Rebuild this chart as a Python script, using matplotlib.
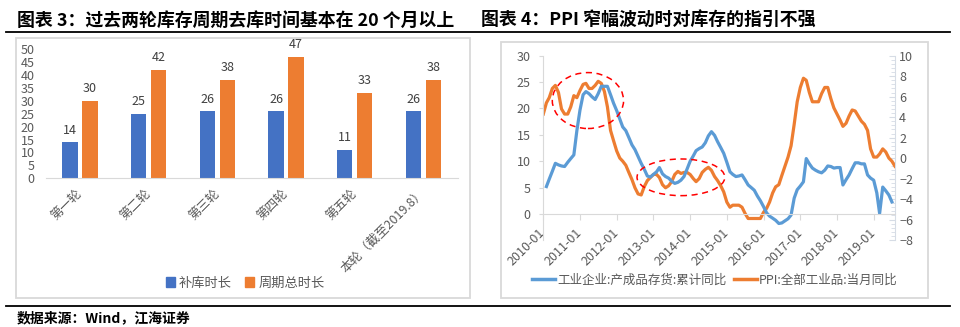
import numpy as np
import pandas as pd
import matplotlib
matplotlib.use("Agg")
import matplotlib.pyplot as plt
import matplotlib.dates as mdates
from matplotlib.patches import Ellipse, Rectangle, Patch
from matplotlib.lines import Line2D
from matplotlib.ticker import MultipleLocator

plt.rcParams['font.family'] = ['Noto Sans CJK SC', 'DejaVu Sans']

# ───────── 数据：图表 3 ─────────
rounds = ['第一轮', '第二轮', '第三轮', '第四轮', '第五轮', '本轮（截至2019.8）']
restock_len = [14, 25, 26, 26, 11, 26]
cycle_len = [30, 42, 38, 47, 33, 38]

# ───────── 数据：图表 4 ─────────
# 工业企业:产成品存货:累计同比 (%)，2010-02 起逐月
inv_2010 = [5.2, 6.6, 8.1, 9.6, 9.3, 9.1, 9.0, 9.8, 10.5, 11.2, 15.8]
inv_2011 = [19.7, 22.6, 23.2, 22.8, 22.2, 21.7, 22.8, 24.2, 24.2, 24.2, 22.6, 21.0]
inv_2012 = [19.6, 18.0, 16.5, 15.8, 14.5, 13.1, 12.2, 10.9, 9.6, 8.5, 7.2, 7.0]
inv_2013 = [7.5, 8.0, 8.8, 7.6, 7.1, 6.8, 6.2, 5.8, 6.0, 6.4, 7.1, 8.5]
inv_2014 = [10.0, 11.0, 12.0, 12.4, 12.7, 13.5, 14.8, 15.6, 14.9, 13.7, 12.6, 11.5]
inv_2015 = [9.8, 8.0, 7.5, 7.1, 7.2, 7.4, 6.5, 5.5, 5.0, 4.5, 3.4, 2.5]
inv_2016 = [1.4, 0.2, -0.4, -0.8, -1.2, -1.8, -1.7, -1.3, -0.9, -0.2, 3.0, 4.6]
inv_2017 = [5.3, 6.1, 10.5, 9.5, 8.7, 8.3, 8.0, 7.8, 8.3, 9.1, 9.0, 8.7]
inv_2018 = [8.8, 8.8, 5.5, 6.5, 7.4, 8.6, 9.7, 9.7, 9.5, 9.5, 7.4, 6.8]
inv_2019 = [6.4, 4.0, 0.1, 5.1, 4.4, 3.6, 2.3]

# PPI:全部工业品:当月同比 (%)，2010-01 起逐月
ppi_2010 = [4.3, 5.4, 5.9, 6.8, 7.1, 6.4, 4.8, 4.3, 4.3, 5.0, 6.1, 5.9]
ppi_2011 = [6.6, 7.2, 7.3, 6.8, 6.8, 7.1, 7.5, 7.3, 6.5, 5.0, 2.7, 1.7]
ppi_2012 = [0.7, 0.0, -0.3, -0.7, -1.4, -2.1, -2.9, -3.5, -3.6, -2.8, -2.2, -1.9]
ppi_2013 = [-1.6, -1.6, -1.9, -2.6, -2.9, -2.7, -2.3, -1.6, -1.3, -1.5, -1.4, -1.4]
ppi_2014 = [-1.6, -2.0, -2.3, -2.0, -1.4, -1.1, -0.9, -1.2, -1.8, -2.2, -2.7, -3.3]
ppi_2015 = [-4.3, -4.8, -4.6, -4.6, -4.6, -4.8, -5.4, -5.9, -5.9, -5.9, -5.9, -5.9]
ppi_2016 = [-5.3, -4.9, -4.3, -3.4, -2.8, -2.6, -1.7, -0.8, 0.1, 1.2, 3.3, 5.5]
ppi_2017 = [6.9, 7.8, 7.6, 6.4, 5.5, 5.5, 5.5, 6.3, 6.9, 6.9, 5.8, 4.9]
ppi_2018 = [4.3, 3.7, 3.1, 3.4, 4.1, 4.7, 4.6, 4.1, 3.6, 3.3, 2.7, 0.9]
ppi_2019 = [0.1, 0.1, 0.4, 0.9, 0.6, 0.0, -0.3, -0.8]

inv_vals = sum([inv_2010, inv_2011, inv_2012, inv_2013, inv_2014, inv_2015,
                inv_2016, inv_2017, inv_2018, inv_2019], [])
ppi_vals = sum([ppi_2010, ppi_2011, ppi_2012, ppi_2013, ppi_2014, ppi_2015,
                ppi_2016, ppi_2017, ppi_2018, ppi_2019], [])
inv_dates = pd.date_range('2010-02-01', periods=len(inv_vals), freq='MS')
ppi_dates = pd.date_range('2010-01-01', periods=len(ppi_vals), freq='MS')
year_ticks = pd.date_range('2010-01-01', '2019-01-01', freq='YS')

BLUE_BAR = '#4472C4'
ORANGE = '#ED7D31'
BLUE_LINE = '#5B9BD5'
GREY_TXT = '#595959'
GRID = '#D9D9D9'

W, H = 960, 327
fig = plt.figure(figsize=(W / 100, H / 100), dpi=100)


def fbox(x0, y0, x1, y1):
    # 像素坐标 (左上原点) -> figure 坐标
    return [x0 / W, 1 - y1 / H, (x1 - x0) / W, (y1 - y0) / H]


# ═══════════════ 图表 3：柱状图 ═══════════════
ax1 = fig.add_axes(fbox(45.7, 49, 457.7, 178.3))
x = np.arange(len(rounds))
b1 = ax1.bar(x - 0.145, restock_len, 0.225, color=BLUE_BAR)
b2 = ax1.bar(x + 0.145, cycle_len, 0.225, color=ORANGE)
ax1.bar_label(b1, padding=4, fontsize=9, color='#404040')
ax1.bar_label(b2, padding=4, fontsize=9, color='#404040')
ax1.set_xlim(-0.5, len(rounds) - 0.5)
ax1.set_ylim(0, 50)
ax1.set_yticks(np.arange(0, 51, 5))
ax1.set_xticks(x)
ax1.set_xticklabels(rounds, rotation=45, ha='right', va='center', rotation_mode='anchor')
ax1.tick_params(axis='y', length=0, labelsize=9, labelcolor=GREY_TXT, pad=8)
ax1.tick_params(axis='x', length=0, labelsize=9, labelcolor=GREY_TXT, pad=9)
for s in ['left', 'right', 'top']:
    ax1.spines[s].set_visible(False)
ax1.spines['bottom'].set_color(GRID)

fig.legend(handles=[Patch(color=BLUE_BAR, label='补库时长'),
                    Patch(color=ORANGE, label='周期总时长')],
           loc='center', bbox_to_anchor=(245 / W, 1 - 283 / H), ncol=2, frameon=False,
           fontsize=9.5, handlelength=0.7, handleheight=0.7, handletextpad=0.3,
           columnspacing=1.0, labelcolor=GREY_TXT)

# ═══════════════ 图表 4：双轴折线 ═══════════════
ax2 = fig.add_axes(fbox(543.3, 55.7, 895, 240))
ax2.plot(inv_dates, inv_vals, color=BLUE_LINE, lw=2.3)
ax2.set_ylim(-4.93, 30)
ax2.set_yticks(np.arange(0, 31, 5))
ax2.set_xlim(pd.Timestamp('2010-01-01'), pd.Timestamp('2019-08-01'))
# 先移动横轴位置（会重置刻度），再设置刻度标签
ax2.spines['bottom'].set_position(('data', 0))
ax2.set_xticks(year_ticks, [d.strftime('%Y-%m') for d in year_ticks],
               rotation=45, ha='right', va='center', rotation_mode='anchor')
ax2.spines['bottom'].set_color(GRID)
ax2.spines['left'].set_color(GRID)
ax2.spines['top'].set_visible(False)
ax2.spines['right'].set_visible(False)
ax2.tick_params(axis='y', length=3, color=GRID, labelsize=9, labelcolor=GREY_TXT, pad=6)
ax2.tick_params(axis='x', length=4, color=GRID, labelsize=9, labelcolor=GREY_TXT, pad=8)

ax3 = ax2.twinx()
ax3.plot(ppi_dates, ppi_vals, color=ORANGE, lw=2.3)
ax3.set_ylim(-8, 10)
ax3.set_yticks(np.arange(-8, 11, 2))
ax3.yaxis.set_minor_locator(MultipleLocator(0.4))
for s in ['left', 'top', 'bottom']:
    ax3.spines[s].set_visible(False)
ax3.spines['right'].set_color('#D6DCE5')
ax3.tick_params(axis='y', which='major', direction='in', length=4, color='#D6DCE5',
                labelsize=9, labelcolor=GREY_TXT, pad=3)
ax3.tick_params(axis='y', which='minor', direction='in', length=3, color='#D6DCE5')

# 红色虚线椭圆
for cx, cy, wd, ht in [('2011-03-21', 21.5, 709, 10.6), ('2013-10-01', 6.95, 873, 6.95)]:
    ax2.add_patch(Ellipse((mdates.date2num(pd.Timestamp(cx)), cy), wd, ht, fill=False,
                          ec='red', lw=1.1, ls=(0, (4, 3)), zorder=5, clip_on=False))
ax3.set_zorder(ax2.get_zorder() - 1)
ax2.patch.set_visible(False)

fig.legend(handles=[Line2D([], [], color=BLUE_LINE, lw=2.5, label='工业企业:产成品存货:累计同比'),
                    Line2D([], [], color=ORANGE, lw=2.5, label='PPI:全部工业品:当月同比')],
           loc='center', bbox_to_anchor=(715 / W, 1 - 280 / H), ncol=2, frameon=False,
           fontsize=9, handlelength=1.8, handletextpad=0.2, columnspacing=0.6,
           labelcolor=GREY_TXT)

# ═══════════════ 外框、标题、来源 ═══════════════
for x0, y0, x1, y1 in [(16, 37.7, 470, 298), (500.7, 41.7, 927.5, 298)]:
    fig.add_artist(Rectangle((x0 / W, 1 - y1 / H), (x1 - x0) / W, (y1 - y0) / H,
                             transform=fig.transFigure, fill=False, ec=GRID, lw=1.3))
for yy in [32.3, 305.7]:
    fig.add_artist(Line2D([6 / W, 950 / W], [1 - yy / H] * 2, transform=fig.transFigure,
                          color='black', lw=1.3))

fig.text(17 / W, 1 - 20.5 / H, '图表 3：过去两轮库存周期去库时间基本在 20 个月以上',
         fontsize=12.9, fontweight='bold', va='center', ha='left')
fig.text(481 / W, 1 - 20.5 / H, '图表 4：PPI 窄幅波动时对库存的指引不强',
         fontsize=12.9, fontweight='bold', va='center', ha='left')
fig.text(17 / W, 1 - 318 / H, '数据来源：Wind，江海证券',
         fontsize=10, fontweight='bold', va='center', ha='left')

fig.savefig('out.png', dpi=100)
